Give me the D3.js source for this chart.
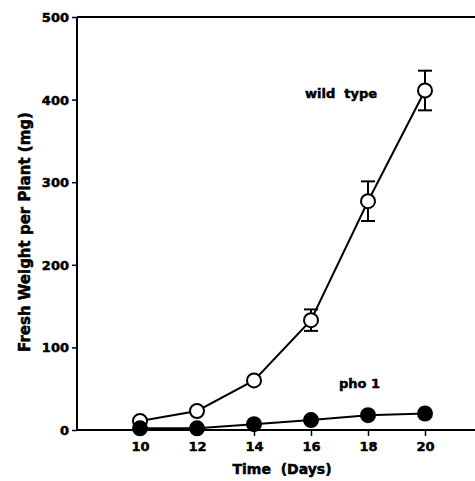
<!DOCTYPE html>
<html>
<head>
<meta charset="utf-8">
<script src="https://cdn.jsdelivr.net/npm/d3@7"></script>
<style>
body { margin: 0; background: #fff; }
text { font-family: "DejaVu Sans", sans-serif; font-weight: bold; fill: #000; stroke: #000; stroke-width: 0.5px; }
</style>
</head>
<body>
<script>
const days = [10, 12, 14, 16, 18, 20];
const wildType = [11, 23, 60, 133, 277, 411];
const wildErr = [0, 0, 0, 13, 24, 24];
const pho1 = [2, 2, 7, 12, 18, 20];
const yTicks = [0, 100, 200, 300, 400, 500];

const svg = d3.select("body").append("svg")
    .attr("width", 475)
    .attr("height", 481);

const x = d3.scaleLinear().domain([10, 20]).range([140, 425]);
const y = d3.scaleLinear().domain([0, 500]).range([430, 17]);
const x0 = x.invert(77), x1 = x.invert(475);

// frame: top line
svg.append("line")
    .attr("x1", x(x0)).attr("x2", x(x1))
    .attr("y1", y(500)).attr("y2", y(500))
    .attr("stroke", "#000").attr("stroke-width", 2);

const xAxis = svg.append("g")
    .attr("transform", "translate(0," + y(0) + ")")
    .call(d3.axisBottom(x).tickValues(days).tickSize(6).tickPadding(6).tickFormat(d3.format("d")));
xAxis.select(".domain").attr("d", "M" + x(x0) + ",0H" + x(x1)).attr("stroke-width", 2);

const yAxis = svg.append("g")
    .attr("transform", "translate(" + x(x0) + ",0)")
    .call(d3.axisLeft(y).tickValues(yTicks).tickSize(5).tickPadding(3));
yAxis.select(".domain").attr("d", "M0," + y(500) + "V" + y(0)).attr("stroke-width", 2);

svg.selectAll(".tick line").attr("stroke-width", 1.5);
svg.selectAll(".tick text").style("font-size", "13px");
yAxis.selectAll(".tick text").attr("dy", "0.35em");

svg.append("text")
    .attr("x", 282).attr("y", 474)
    .attr("text-anchor", "middle")
    .style("font-size", "14px")
    .attr("xml:space", "preserve")
    .text("Time  (Days)");

svg.append("text")
    .attr("transform", "translate(30,232) rotate(-90)")
    .attr("text-anchor", "middle")
    .style("font-size", "15px")
    .text("Fresh Weight per Plant (mg)");

const line = d3.line().x((d, i) => x(days[i])).y(d => y(d));

svg.append("path").datum(pho1)
    .attr("d", line).attr("fill", "none").attr("stroke", "#000").attr("stroke-width", 2);
svg.append("path").datum(wildType)
    .attr("d", line).attr("fill", "none").attr("stroke", "#000").attr("stroke-width", 2);

// error bars
const eb = svg.append("g").attr("stroke", "#000").attr("stroke-width", 2);
wildType.forEach((v, i) => {
    if (!wildErr[i]) return;
    const cx = x(days[i]);
    eb.append("line").attr("x1", cx).attr("x2", cx).attr("y1", y(v + wildErr[i])).attr("y2", y(v - wildErr[i]));
    eb.append("line").attr("x1", cx - 7).attr("x2", cx + 7).attr("y1", y(v + wildErr[i])).attr("y2", y(v + wildErr[i]));
    eb.append("line").attr("x1", cx - 7).attr("x2", cx + 7).attr("y1", y(v - wildErr[i])).attr("y2", y(v - wildErr[i]));
});

svg.append("g").selectAll("circle").data(wildType).join("circle")
    .attr("cx", (d, i) => x(days[i])).attr("cy", d => y(d)).attr("r", 7)
    .attr("fill", "#fff").attr("stroke", "#000").attr("stroke-width", 2);

svg.append("g").selectAll("circle").data(pho1).join("circle")
    .attr("cx", (d, i) => x(days[i])).attr("cy", d => y(d)).attr("r", 8)
    .attr("fill", "#000");

svg.append("text")
    .attr("x", 305).attr("y", 98)
    .style("font-size", "13px")
    .attr("xml:space", "preserve")
    .text("wild  type");

svg.append("text")
    .attr("x", 339).attr("y", 388)
    .style("font-size", "13px")
    .text("pho 1");
</script>
</body>
</html>
